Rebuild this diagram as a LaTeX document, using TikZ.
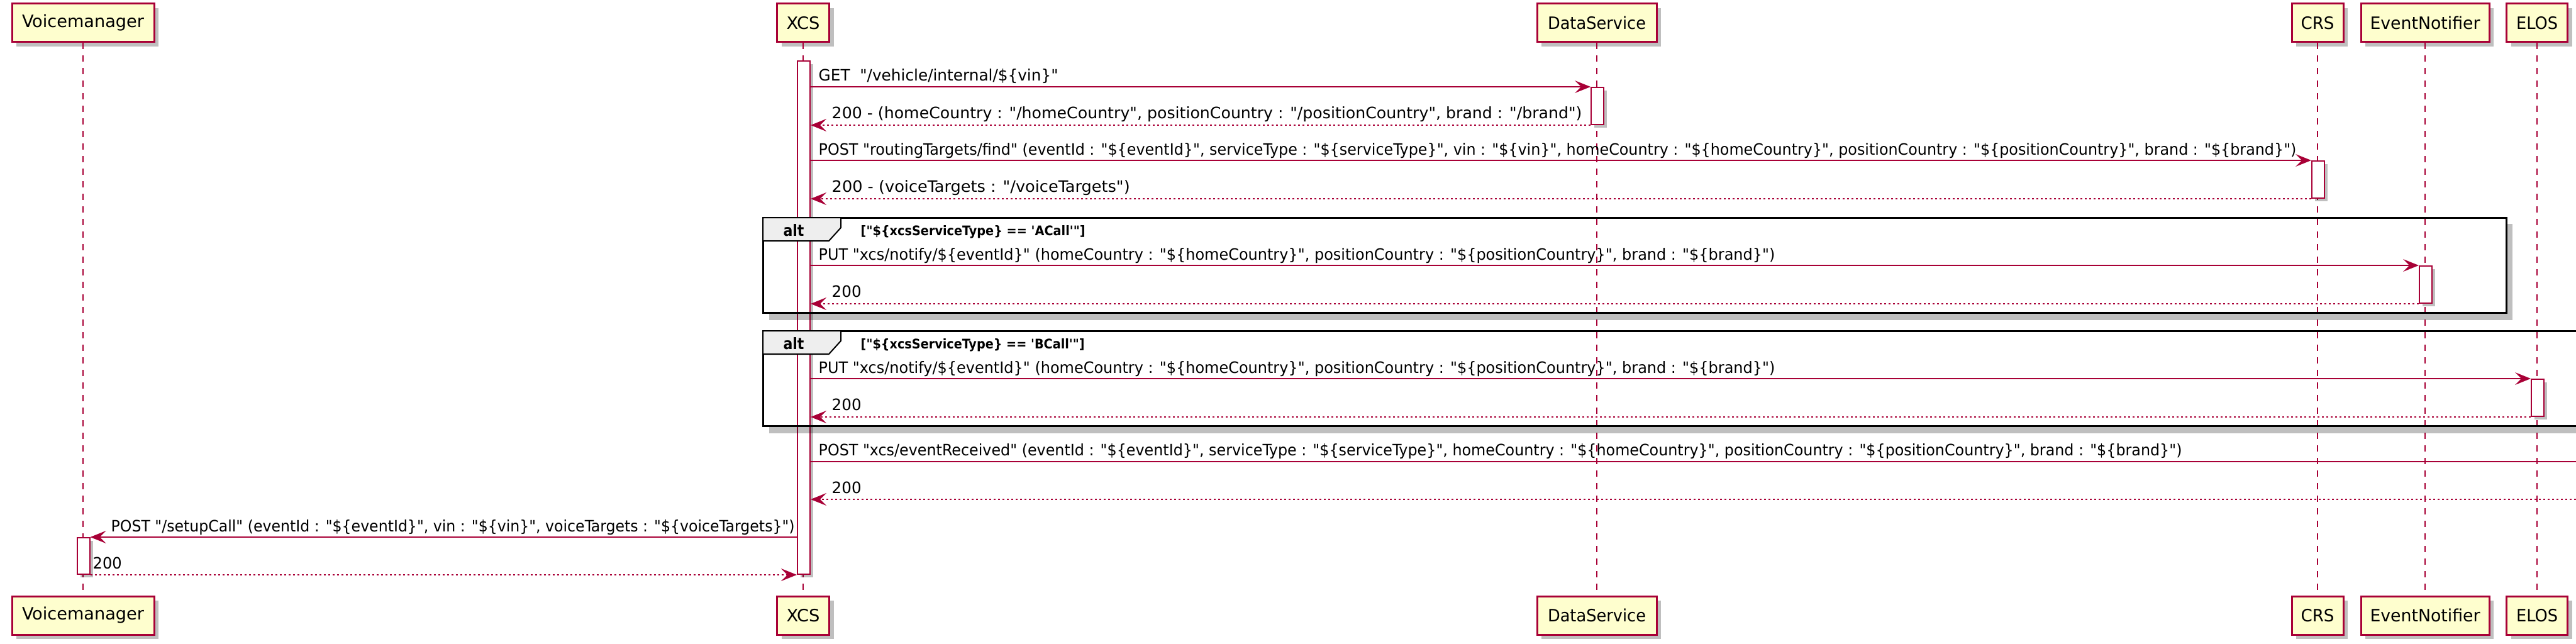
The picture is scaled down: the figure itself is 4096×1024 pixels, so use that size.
\documentclass[tikz,border=0pt]{standalone}
\usepackage{fontspec}
\usepackage{graphicx}
\usepackage{tikz}
\usetikzlibrary{arrows.meta,shadows}
\newfontfamily\umlfont{DejaVu Sans Condensed}
\definecolor{umlred}{HTML}{A80036}
\definecolor{umlfill}{HTML}{FEFECE}
\definecolor{tabgray}{HTML}{EEEEEE}
% set a text to a given width
\newlength{\fitlen}
\newcommand{\fitw}[2]{\settowidth{\fitlen}{#2}\scalebox{\fpeval{(#1)/(\fitlen)}}[1]{#2}}
\tikzset{
  actor/.style={draw=umlred, fill=umlfill, line width=0.3mm, minimum height=6.1mm, inner sep=0,
    font=\umlfont\fontsize{7.7}{9}\selectfont,
    drop shadow={shadow xshift=0.7mm, shadow yshift=-0.7mm, fill=black, opacity=0.25}},
  act/.style={draw=umlred, fill=white, line width=0.2mm, minimum width=2mm, inner sep=0,
    drop shadow={shadow xshift=0.5mm, shadow yshift=-0.5mm, fill=black, opacity=0.25}},
  life/.style={umlred, line width=0.2mm, dash pattern=on 1mm off 1mm},
  msg/.style={umlred, line width=0.2mm, -{Stealth[length=2.5mm, width=2mm, inset=1mm]}},
  ret/.style={msg, dash pattern=on 0.35mm off 0.35mm},
  lbl/.style={anchor=base west, inner sep=0, font=\umlfont\fontsize{7.1}{8.5}\selectfont},
  altlbl/.style={anchor=base, inner sep=0, font=\umlfont\bfseries\fontsize{7.1}{8.5}\selectfont},
  cond/.style={anchor=base west, inner sep=0, font=\umlfont\bfseries\fontsize{6}{7}\selectfont},
  frm/.style={draw=black, line width=0.3mm},
  frmshadow/.style={fill=black, opacity=0.25, draw=none},
}

\begin{document}
\begin{tikzpicture}[x=0.1mm, y=-0.1mm]
  \useasboundingbox (0,0) rectangle (4096,1024);
  \clip (0,0) rectangle (4096,1024);

  % participants
  \node[actor, minimum width=22.6mm] (vm) at (132,36.5) {\fitw{19.4mm}{Voicemanager}};
  \node[actor, minimum width=8.3mm] (xcs) at (1277,36.5) {\fitw{5.3mm}{XCS}};
  \node[actor, minimum width=19mm] (ds) at (2539,36.5) {\fitw{15.6mm}{DataService}};
  \node[actor, minimum width=8.2mm] (crs) at (3685,36.5) {\fitw{5.3mm}{CRS}};
  \node[actor, minimum width=20.4mm] (en) at (3856,36.5) {\fitw{17.5mm}{EventNotifier}};
  \node[actor, minimum width=9.7mm] (elos) at (4034,36.5) {\fitw{6.6mm}{ELOS}};

  \node[actor, minimum width=22.6mm] (vm2) at (132,978.5) {\fitw{19.4mm}{Voicemanager}};
  \node[actor, minimum width=8.3mm] (xcs2) at (1277,978.5) {\fitw{5.3mm}{XCS}};
  \node[actor, minimum width=19mm] (ds2) at (2539,978.5) {\fitw{15.6mm}{DataService}};
  \node[actor, minimum width=8.2mm] (crs2) at (3685,978.5) {\fitw{5.3mm}{CRS}};
  \node[actor, minimum width=20.4mm] (en2) at (3856,978.5) {\fitw{17.5mm}{EventNotifier}};
  \node[actor, minimum width=9.7mm] (elos2) at (4034,978.5) {\fitw{6.6mm}{ELOS}};

  % lifelines
  \draw[life] (vm.south) -- (vm2.north);
  \draw[life] (xcs.south) -- (xcs2.north);
  \draw[life] (ds.south) -- (ds2.north);
  \draw[life] (crs.south) -- (crs2.north);
  \draw[life] (en.south) -- (en2.north);
  \draw[life] (elos.south) -- (elos2.north);

  % activations
  \node[act, minimum height=81.6mm] (xcsact) at (1278,505) {};
  \node[act, minimum height=5.9mm] (dsact) at (2540,168.5) {};
  \node[act, minimum height=5.9mm] (crsact) at (3686,285.5) {};
  \node[act, minimum height=5.9mm] (enact) at (3857,452.5) {};
  \node[act, minimum height=5.9mm] (elosact) at (4035,632.5) {};
  \node[act, minimum height=5.8mm] (vmact) at (132.5,884) {};

  % alt frames
  \fill[frmshadow] (1223,497) rectangle (3995,509);
  \fill[frmshadow] (3985,356) rectangle (3995,497);
  \draw[frm] (1213,346) rectangle (3985,497);
  \draw[frm, fill=tabgray, line width=0.2mm] (1213,346) -- (1337,346) -- (1337,362) -- (1318,383) -- (1213,383) -- cycle;
  \node[altlbl] (alt1) at (1262,375) {\fitw{3.3mm}{alt}};
  \node[cond] (c1) at (1368,374) {\fitw{35.7mm}{["\$\{xcsServiceType\} == 'ACall'"]}};

  \fill[frmshadow] (1223,677) rectangle (4120,689);
  \draw[frm] (4120,526) -- (1213,526) -- (1213,677) -- (4120,677);
  \draw[frm, fill=tabgray, line width=0.2mm] (1213,526) -- (1337,526) -- (1337,542) -- (1318,563) -- (1213,563) -- cycle;
  \node[altlbl] (alt2) at (1262,555) {\fitw{3.3mm}{alt}};
  \node[cond] (c2) at (1368,554) {\fitw{35.6mm}{["\$\{xcsServiceType\} == 'BCall'"]}};

  % messages
  \coordinate (ext) at (4096,734);
  \coordinate (extret) at (4096,794);

  \draw[msg] (xcsact.east |- dsact.north) -- (dsact.north west);
  \node[lbl] (m1) at (1301,129) {\fitw{38.1mm}{GET\ \ "/vehicle/internal/\$\{vin\}"}};
  \draw[ret] (dsact.south west) -- (xcsact.east |- dsact.south);
  \node[lbl] (m2) at (1322,188) {\fitw{119.3mm}{200 - (homeCountry : "/homeCountry", positionCountry : "/positionCountry", brand : "/brand")}};

  \draw[msg] (xcsact.east |- crsact.north) -- (crsact.north west);
  \node[lbl] (m3) at (1301,246) {\fitw{235mm}{POST "routingTargets/find" (eventId : "\$\{eventId\}", serviceType : "\$\{serviceType\}", vin : "\$\{vin\}", homeCountry : "\$\{homeCountry\}", positionCountry : "\$\{positionCountry\}", brand : "\$\{brand\}")}};
  \draw[ret] (crsact.south west) -- (xcsact.east |- crsact.south);
  \node[lbl] (m4) at (1322,305) {\fitw{47.4mm}{200 - (voiceTargets : "/voiceTargets")}};

  \draw[msg] (xcsact.east |- enact.north) -- (enact.north west);
  \node[lbl] (m5) at (1301,413) {\fitw{152.1mm}{PUT "xcs/notify/\$\{eventId\}" (homeCountry : "\$\{homeCountry\}", positionCountry : "\$\{positionCountry\}", brand : "\$\{brand\}")}};
  \draw[ret] (enact.south west) -- (xcsact.east |- enact.south);
  \node[lbl] (m6) at (1322,472) {\fitw{4.7mm}{200}};

  \draw[msg] (xcsact.east |- elosact.north) -- (elosact.north west);
  \node[lbl] (m7) at (1301,593) {\fitw{152.1mm}{PUT "xcs/notify/\$\{eventId\}" (homeCountry : "\$\{homeCountry\}", positionCountry : "\$\{positionCountry\}", brand : "\$\{brand\}")}};
  \draw[ret] (elosact.south west) -- (xcsact.east |- elosact.south);
  \node[lbl] (m8) at (1322,652) {\fitw{4.7mm}{200}};

  \draw[umlred, line width=0.2mm] (xcsact.east |- ext) -- (ext);
  \node[lbl] (m9) at (1301,724) {\fitw{216.8mm}{POST "xcs/eventReceived" (eventId : "\$\{eventId\}", serviceType : "\$\{serviceType\}", homeCountry : "\$\{homeCountry\}", positionCountry : "\$\{positionCountry\}", brand : "\$\{brand\}")}};
  \draw[ret] (extret) -- (xcsact.east |- extret);
  \node[lbl] (m10) at (1322,784) {\fitw{4.7mm}{200}};

  \draw[msg] (xcsact.west |- vmact.north) -- (vmact.north east);
  \node[lbl] (m11) at (176,845) {\fitw{108.7mm}{POST "/setupCall" (eventId : "\$\{eventId\}", vin : "\$\{vin\}", voiceTargets : "\$\{voiceTargets\}")}};
  \draw[ret] (vmact.south east) -- (xcsact.west |- vmact.south);
  \node[lbl] (m12) at (147,904) {\fitw{4.6mm}{200}};
\end{tikzpicture}
\end{document}
